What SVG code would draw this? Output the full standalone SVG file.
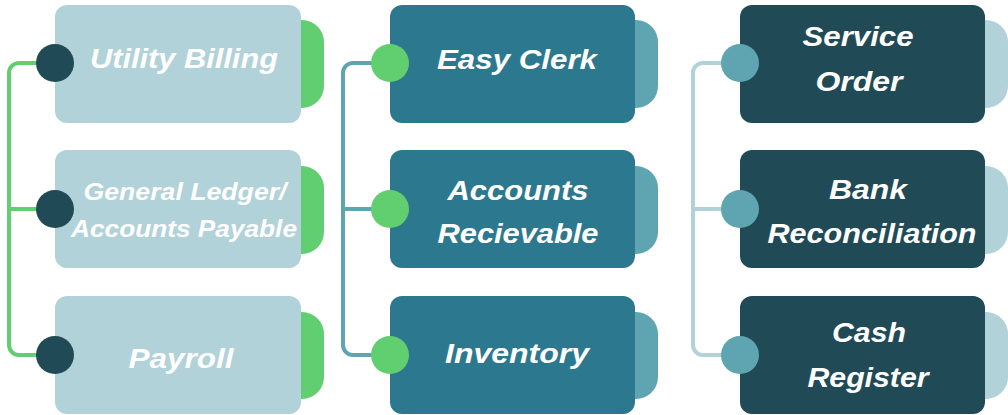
<svg xmlns="http://www.w3.org/2000/svg" width="1008" height="415" viewBox="0 0 1008 415">
<style>
.lbl{font-family:"Liberation Sans",Arial,sans-serif;font-weight:700;font-style:italic;fill:#ffffff;text-anchor:middle;font-size:28px}
.sm{font-size:23px}
.c1b{fill:#B1D2D9}.c1t{fill:#60CE71}.c1d{fill:#1F4A56}
.c2b{fill:#2C788E}.c2t{fill:#5EA4B1}.c2d{fill:#61CF70}
.c3b{fill:#204A56}.c3t{fill:#B1D2D9}.c3d{fill:#5EA4B1}
.ln{fill:none;stroke-width:4}
</style>
<g id="connectors">
<path class="ln" stroke="#60CE71" d="M55,63 H19 A10,10 0 0 0 9,73 V345 A10,10 0 0 0 19,355 H55 M9,209 H55"/>
<path class="ln" stroke="#5EA4B1" d="M390,63 H353 A10,10 0 0 0 343,73 V345 A10,10 0 0 0 353,355 H390 M343,209 H390"/>
<path class="ln" stroke="#B1D2D9" d="M740,63 H703 A10,10 0 0 0 693,73 V345 A10,10 0 0 0 703,355 H740 M693,209 H740"/>
</g>
<g id="utility-billing">
<rect class="c1t" x="271" y="20" width="53" height="88" rx="22"/>
<rect class="c1b" x="55" y="5" width="246" height="118" rx="12"/>
<circle class="c1d" cx="55" cy="63" r="19"/>
<text class="lbl" x="184" y="68" textLength="188" lengthAdjust="spacingAndGlyphs">Utility Billing</text>
</g>
<g id="general-ledger">
<rect class="c1t" x="271" y="166" width="53" height="88" rx="22"/>
<rect class="c1b" x="55" y="150" width="246" height="118" rx="12"/>
<circle class="c1d" cx="55" cy="209" r="19"/>
<text class="lbl sm" x="185" y="200" textLength="203" lengthAdjust="spacingAndGlyphs">General Ledger/</text>
<text class="lbl sm" x="184" y="237" textLength="226" lengthAdjust="spacingAndGlyphs">Accounts Payable</text>
</g>
<g id="payroll">
<rect class="c1t" x="271" y="312" width="53" height="87" rx="22"/>
<rect class="c1b" x="55" y="296" width="246" height="118" rx="12"/>
<circle class="c1d" cx="55" cy="355" r="19"/>
<text class="lbl" x="181" y="368" textLength="105" lengthAdjust="spacingAndGlyphs">Payroll</text>
</g>
<g id="easy-clerk">
<rect class="c2t" x="605" y="20" width="53" height="88" rx="22"/>
<rect class="c2b" x="390" y="5" width="245" height="118" rx="12"/>
<circle class="c2d" cx="390" cy="63" r="19"/>
<text class="lbl" x="517" y="69" textLength="160" lengthAdjust="spacingAndGlyphs">Easy Clerk</text>
</g>
<g id="accounts-recievable">
<rect class="c2t" x="605" y="166" width="53" height="88" rx="22"/>
<rect class="c2b" x="390" y="150" width="245" height="118" rx="12"/>
<circle class="c2d" cx="390" cy="209" r="19"/>
<text class="lbl" x="518" y="200" textLength="141" lengthAdjust="spacingAndGlyphs">Accounts</text>
<text class="lbl" x="518" y="243" textLength="161" lengthAdjust="spacingAndGlyphs">Recievable</text>
</g>
<g id="inventory">
<rect class="c2t" x="605" y="312" width="53" height="87" rx="22"/>
<rect class="c2b" x="390" y="296" width="245" height="118" rx="12"/>
<circle class="c2d" cx="390" cy="355" r="19"/>
<text class="lbl" x="517" y="363" textLength="144" lengthAdjust="spacingAndGlyphs">Inventory</text>
</g>
<g id="service-order">
<rect class="c3t" x="955" y="20" width="53" height="88" rx="22"/>
<rect class="c3b" x="740" y="5" width="245" height="118" rx="12"/>
<circle class="c3d" cx="740" cy="63" r="19"/>
<text class="lbl" x="858" y="46" textLength="111" lengthAdjust="spacingAndGlyphs">Service</text>
<text class="lbl" x="859" y="91" textLength="87" lengthAdjust="spacingAndGlyphs">Order</text>
</g>
<g id="bank-reconciliation">
<rect class="c3t" x="955" y="166" width="53" height="88" rx="22"/>
<rect class="c3b" x="740" y="150" width="245" height="118" rx="12"/>
<circle class="c3d" cx="740" cy="209" r="19"/>
<text class="lbl" x="868" y="199" textLength="78" lengthAdjust="spacingAndGlyphs">Bank</text>
<text class="lbl" x="872" y="243" textLength="209" lengthAdjust="spacingAndGlyphs">Reconciliation</text>
</g>
<g id="cash-register">
<rect class="c3t" x="955" y="312" width="53" height="87" rx="22"/>
<rect class="c3b" x="740" y="296" width="245" height="118" rx="12"/>
<circle class="c3d" cx="740" cy="355" r="19"/>
<text class="lbl" x="869" y="342" textLength="74" lengthAdjust="spacingAndGlyphs">Cash</text>
<text class="lbl" x="868" y="387" textLength="121" lengthAdjust="spacingAndGlyphs">Register</text>
</g>
</svg>
